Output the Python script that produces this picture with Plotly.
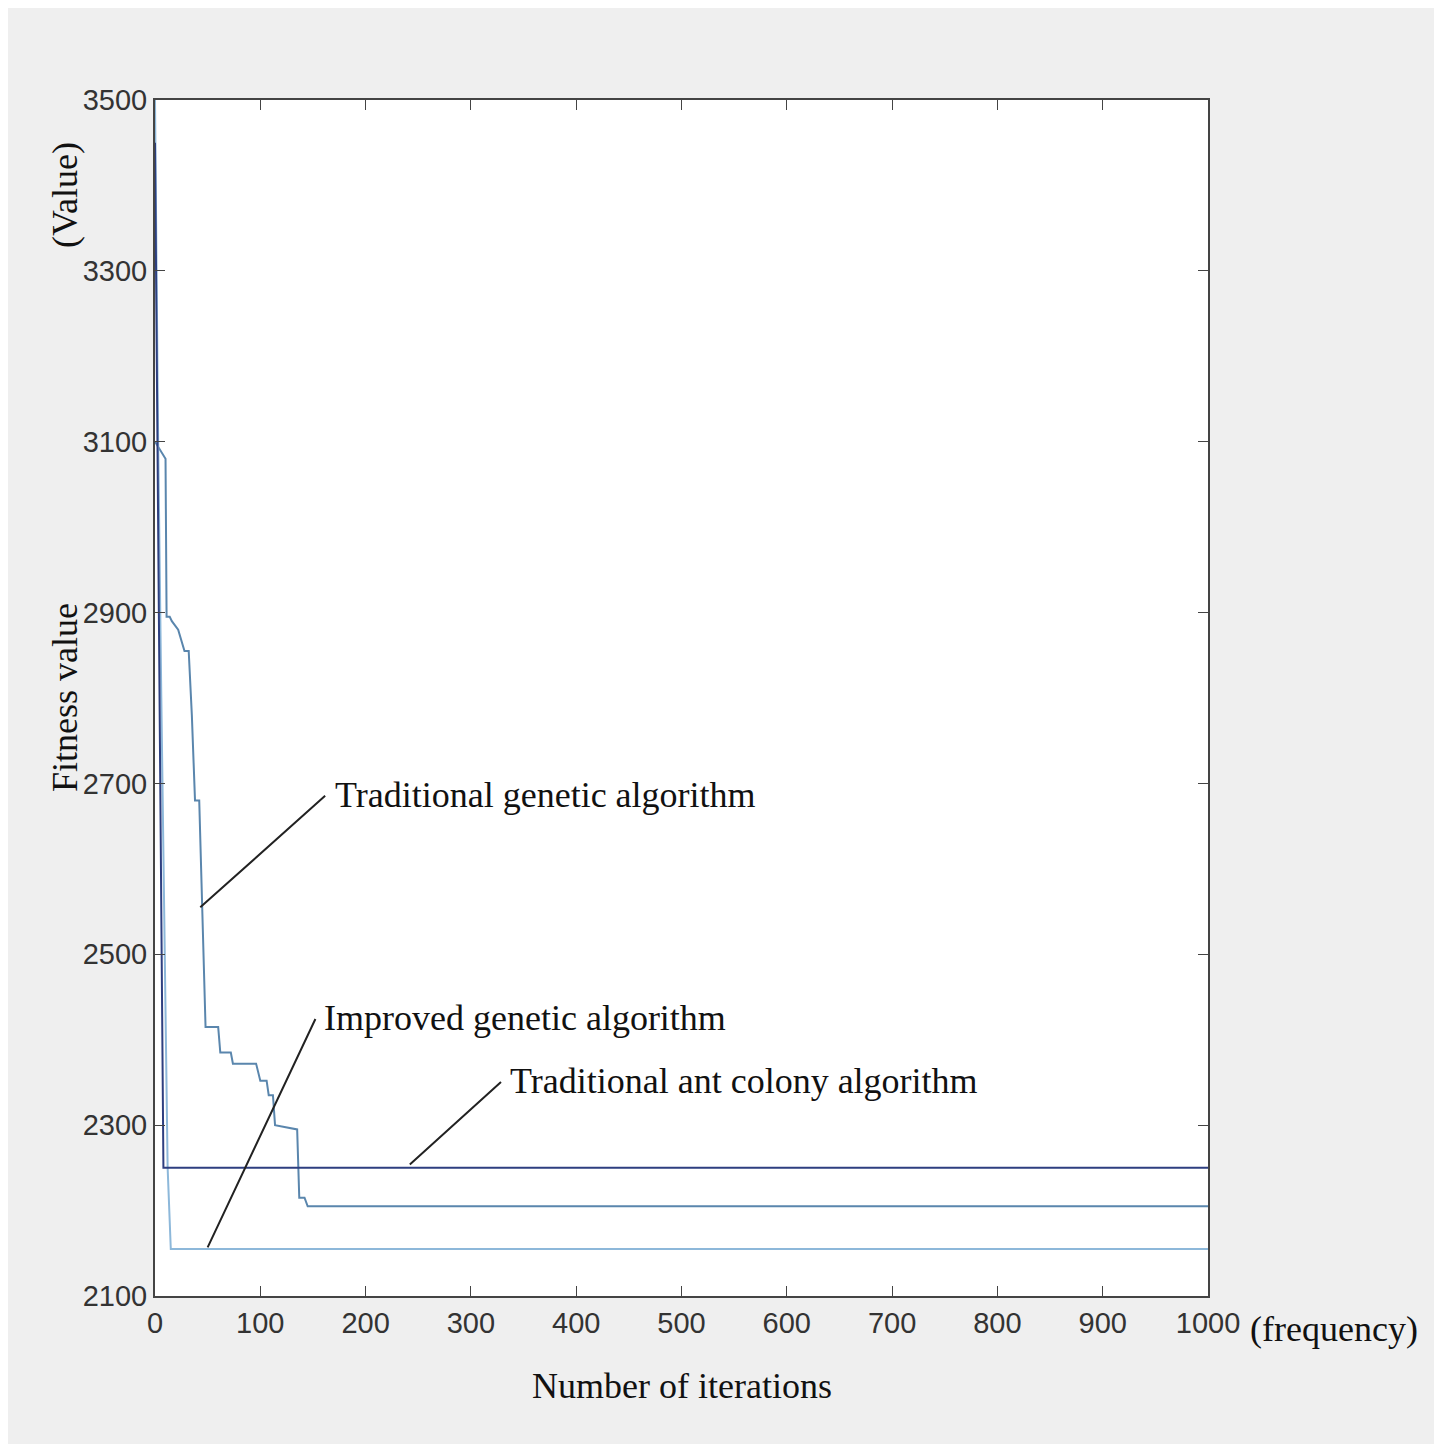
import plotly.graph_objects as go

tga_x = [0, 10, 11, 14, 16, 22, 28, 32, 35, 38, 42, 48, 50, 60, 62, 72, 74, 96, 100, 106, 108, 112, 114, 135, 137, 142, 145, 1000]
tga_y = [3100, 3080, 2895, 2895, 2890, 2880, 2855, 2855, 2780, 2680, 2680, 2415, 2415, 2415, 2385, 2385, 2372, 2372, 2352, 2352, 2335, 2335, 2300, 2295, 2215, 2215, 2205, 2205]
iga_x = [0, 3, 6, 9, 12, 15, 1000]
iga_y = [3500, 3100, 2800, 2500, 2250, 2155, 2155]
aca_x = [0, 2, 4, 6, 8, 1000]
aca_y = [3450, 3150, 2850, 2550, 2250, 2250]

fig = go.Figure()
fig.add_trace(go.Scatter(x=tga_x, y=tga_y, mode="lines", line=dict(color="#5a86ad", width=2)))
fig.add_trace(go.Scatter(x=iga_x, y=iga_y, mode="lines", line=dict(color="#8db8da", width=2)))
fig.add_trace(go.Scatter(x=aca_x, y=aca_y, mode="lines", line=dict(color="#2e3f80", width=2)))

serif = dict(family="Liberation Serif, Times New Roman, serif", size=36, color="#111")
anns = [
    ("Traditional genetic algorithm", 43, 2555, 163, 2687),
    ("Improved genetic algorithm", 50, 2157, 153, 2426),
    ("Traditional ant colony algorithm", 242, 2254, 330, 2352),
]
for t, x, y, ax, ay in anns:
    fig.add_annotation(x=x, y=y, ax=ax, ay=ay, axref="x", ayref="y", showarrow=True,
                       arrowhead=0, arrowwidth=2, arrowcolor="#222", text="")
    fig.add_annotation(x=ax, y=ay, text=t, showarrow=False, xanchor="left", yanchor="bottom",
                       xshift=6, yshift=-22, font=serif)

fig.add_annotation(xref="paper", yref="paper", x=1.0, y=0, yshift=-55, xanchor="left", xshift=40,
                   text="(frequency)", showarrow=False, font=serif)
fig.add_annotation(xref="paper", yref="paper", x=0.5, y=0, yshift=-112, text="Number of iterations",
                   showarrow=False, font=serif)
fig.add_annotation(xref="paper", yref="paper", x=0, xshift=-112, y=0.5, text="Fitness value",
                   textangle=-90, showarrow=False, font=serif)
fig.add_annotation(xref="paper", yref="paper", x=0, xshift=-112, y=1.0, yshift=-40, text="(Value)",
                   textangle=-90, showarrow=False, font=serif)

tick_font = dict(family="Liberation Sans, Arial, sans-serif", size=29, color="#333")
fig.update_layout(
    width=1442, height=1444, showlegend=False,
    paper_bgcolor="#efefef", plot_bgcolor="white",
    margin=dict(l=147, r=242, t=92, b=156),
    xaxis=dict(range=[0, 1000], tickvals=list(range(0, 1001, 100)), ticks="inside", ticklen=10,
               showgrid=False, zeroline=False, showline=True, linecolor="#444", linewidth=2,
               mirror="ticks", tickfont=tick_font),
    yaxis=dict(range=[2100, 3500], tickvals=list(range(2100, 3501, 200)), ticks="inside", ticklen=10,
               showgrid=False, zeroline=False, showline=True, linecolor="#444", linewidth=2,
               mirror="ticks", tickfont=tick_font),
)
fig.write_html("out.html")
